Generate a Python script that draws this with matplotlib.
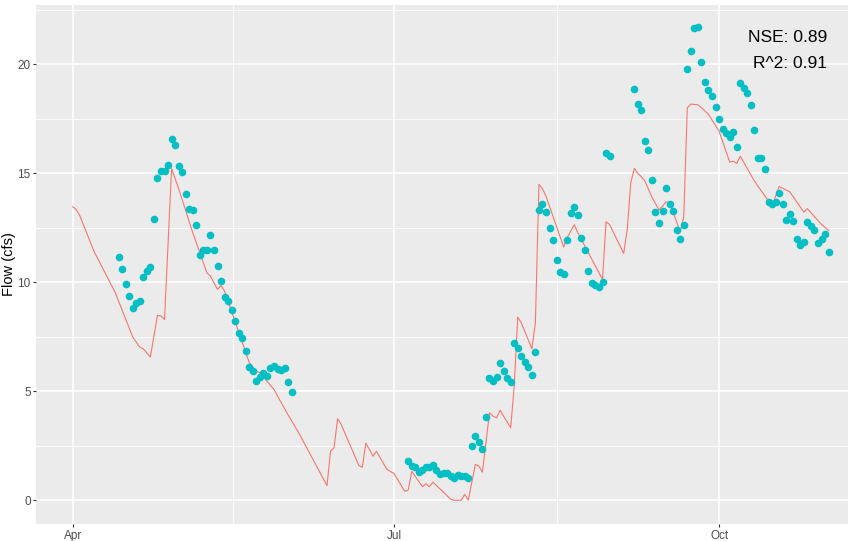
import matplotlib
matplotlib.use("Agg")
from matplotlib import pyplot as plt
import numpy as np
import pandas as pd

plt.rcParams['font.family'] = ['Liberation Sans', 'DejaVu Sans']

# Observed daily flow, three continuous runs
obs_start_1 = "2019-04-14"
obs_flow_1 = [11.19, 10.61, 9.91, 9.36, 8.81, 9.04, 9.13, 10.23, 10.52, 10.70,
              12.89, 14.79, 15.09, 15.10, 15.38, 16.57, 16.30, 15.32, 15.08, 14.05,
              13.38, 13.33, 12.63, 11.27, 11.47, 11.48, 12.17, 11.48, 10.76, 10.06,
              9.34, 9.14, 8.73, 8.23, 7.69, 7.43, 6.85, 6.13, 5.92, 5.50,
              5.67, 5.84, 5.72, 6.07, 6.19, 6.02, 6.00, 6.06, 5.45, 4.97]

obs_start_2 = "2019-07-05"
obs_flow_2 = [1.80, 1.57, 1.53, 1.30, 1.38, 1.55, 1.53, 1.62, 1.39, 1.22,
              1.24, 1.24, 1.12, 1.04, 1.16, 1.13, 1.10, 1.02,
              2.48, 2.97, 2.69, 2.34, 3.84, 5.61, 5.46, 5.66, 6.32, 5.95,
              5.60, 5.44, 7.23, 6.99, 6.64, 6.35, 6.10, 5.75, 6.83,
              13.32, 13.58, 13.21, 12.48, 11.93, 11.01, 10.46, 10.38, 11.93, 13.17,
              13.46, 13.09, 12.02, 11.47, 10.52, 9.99, 9.88, 9.80, 10.03,
              15.92, 15.78]

obs_start_3 = "2019-09-07"
obs_flow_3 = [18.88, 18.17, 17.92, 16.50, 16.09, 14.71, 13.24, 12.71, 13.30, 14.33,
              13.62, 13.29, 12.39, 11.99, 12.65,
              19.77, 20.60, 21.67, 21.70, 20.12, 19.19, 18.82, 18.56, 18.03, 17.49,
              17.03, 16.87, 16.68, 16.91, 16.22,
              19.17, 18.93, 18.70, 18.12, 17.00, 15.70, 15.72, 15.20, 13.67, 13.61,
              13.67, 14.08, 13.58, 12.88, 13.12, 12.84, 12.00, 11.70, 11.85, 12.78,
              12.57, 12.39, 11.83, 11.97, 12.20, 11.41]

# Simulated flow (days after Apr 1)
sim_start = "2019-04-01"
sim_day = [0, 1, 2, 6, 12, 17, 19, 20, 22, 24, 25, 26, 28, 30, 34, 38, 39, 41, 42, 43,
           50, 52, 53, 57, 58, 59, 61, 64, 72, 73, 74, 75, 76, 81, 82, 83, 84, 85, 86, 89,
           91, 94, 95, 96, 99, 100, 101, 102, 107, 108, 110, 111, 112, 114, 115, 116, 118, 119, 120, 121,
           124, 125, 126, 127, 130, 131, 132, 133, 134, 139, 140, 142, 143, 150, 151, 152, 156, 157, 158, 159,
           160, 161, 162, 164, 166, 167, 168, 169, 172, 173, 174, 175, 177, 178, 180, 183, 186, 187, 188, 189,
           193, 198, 200, 203, 207, 208, 212, 214]
sim_flow = [13.47, 13.35, 13.07, 11.44, 9.55, 7.50, 7.03, 6.95, 6.58, 8.49, 8.46, 8.30, 15.22, 14.30, 12.28, 10.44, 10.29, 9.68, 9.86, 9.60,
            6.32, 5.93, 5.86, 5.09, 4.79, 4.50, 3.92, 3.10, 0.68, 2.26, 2.42, 3.75, 3.49, 1.61, 1.52, 2.63, 2.34, 2.03, 2.25, 1.42,
            1.23, 0.42, 0.48, 1.34, 0.63, 0.77, 0.63, 0.84, 0.06, 0.01, 0.01, 0.28, 0.01, 1.65, 1.58, 1.30, 4.02, 3.87, 3.79, 4.14,
            3.33, 5.24, 8.41, 8.15, 6.96, 8.15, 14.50, 14.30, 13.96, 11.62, 12.05, 12.65, 12.28, 10.14, 12.78, 12.66, 11.33, 12.43, 14.57, 15.23,
            15.00, 14.85, 14.65, 13.91, 13.32, 13.50, 13.70, 13.65, 12.33, 13.00, 18.01, 18.18, 18.15, 18.01, 17.71, 16.94, 15.52, 15.56, 15.46, 15.79,
            14.65, 13.50, 14.40, 14.16, 13.23, 13.38, 12.66, 12.38]

tick_dates = ["2019-04-01", "2019-07-01", "2019-10-01"]
tick_labels = ["Apr", "Jul", "Oct"]
minor_dates = ["2019-05-16 12:00", "2019-08-16 00:00"]

nse_text = "NSE: 0.89"
r2_text = "R^2: 0.91"

obs_dates = np.concatenate([
    pd.date_range(obs_start_1, periods=len(obs_flow_1), freq="D"),
    pd.date_range(obs_start_2, periods=len(obs_flow_2), freq="D"),
    pd.date_range(obs_start_3, periods=len(obs_flow_3), freq="D"),
])
obs_flow = obs_flow_1 + obs_flow_2 + obs_flow_3
sim_dates = pd.Timestamp(sim_start) + pd.to_timedelta(sim_day, unit="D")

fig = plt.figure(figsize=(8.54, 5.41), dpi=100)
ax = fig.add_axes([36.3 / 854, 1 - 524 / 541, (848 - 36.3) / 854, (524 - 4.7) / 541])
ax.set_facecolor("#EBEBEB")
for s in ax.spines.values():
    s.set_visible(False)

ax.plot(sim_dates, sim_flow, color="#F8766D", lw=0.8, zorder=3)
ax.scatter(obs_dates, obs_flow, s=30, color="#00BFC4", linewidths=0, zorder=4)

x0 = pd.Timestamp(sim_start)
ax.set_xlim(x0 - pd.Timedelta(days=10.3), x0 + pd.Timedelta(days=219.5))
ax.set_ylim(-1.08, 22.74)

ax.set_xticks([pd.Timestamp(d) for d in tick_dates])
ax.set_xticklabels(tick_labels)
ax.set_xticks([pd.Timestamp(d) for d in minor_dates], minor=True)
ax.set_yticks([0, 5, 10, 15, 20])
ax.set_yticks([2.5, 7.5, 12.5, 17.5, 22.5], minor=True)

ax.grid(which="major", color="white", lw=1.2)
ax.grid(which="minor", color="white", lw=0.6)
ax.set_axisbelow(True)
ax.tick_params(which="major", length=2.5, width=0.8, color="#333333",
               labelsize=8.5, labelcolor="#4D4D4D", pad=1.5)
ax.tick_params(which="minor", length=0)

ax.set_ylabel("Flow (cfs)", fontsize=10.5, color="black")
ax.yaxis.set_label_coords(-0.0245, 0.5)

fig.text(827 / 854, 1 - 41.7 / 541, nse_text, ha="right", va="baseline", fontsize=12.5)
fig.text(827 / 854, 1 - 67.7 / 541, r2_text, ha="right", va="baseline", fontsize=12.5)

fig.savefig("out.png", dpi=100)
